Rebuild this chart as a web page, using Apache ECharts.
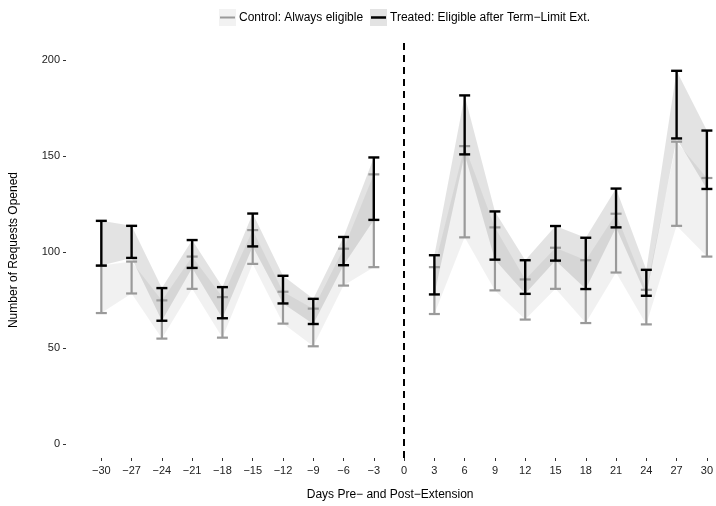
<!DOCTYPE html>
<html>
<head>
<meta charset="utf-8">
<script src="https://cdn.jsdelivr.net/npm/echarts@6/dist/echarts.min.js"></script>
<style>
  html, body { margin: 0; padding: 0; background: #fff; }
  #chart { width: 716px; height: 506px; }
</style>
</head>
<body>
<div id="chart"></div>
<script>
// Days relative to the term-limit extension (day 0)
var days = [-30, -27, -24, -21, -18, -15, -12, -9, -6, -3, 3, 6, 9, 12, 15, 18, 21, 24, 27, 30];

// Control group: always eligible (confidence interval bounds)
var controlLo = [68.2, 78.4, 54.9, 80.8, 55.4, 93.8, 62.7, 50.9, 82.5, 92.1,
                 67.7, 107.6, 80.0, 64.8, 80.8, 63.0, 89.3, 62.3, 113.6, 97.6];
var controlHi = [92.9, 95.0, 74.8, 97.6, 76.5, 111.4, 79.3, 70.5, 101.7, 140.4,
                 92.1, 155.1, 112.8, 85.7, 102.2, 95.7, 119.9, 80.3, 157.4, 138.5];

// Treated group: eligible after the term-limit extension
var treatedLo = [92.9, 96.9, 64.2, 91.7, 65.5, 102.9, 73.2, 62.5, 93.1, 116.7,
                 77.9, 150.8, 96.0, 78.2, 95.5, 80.7, 112.8, 77.2, 159.1, 132.8];
var treatedHi = [116.2, 113.6, 81.2, 106.2, 81.7, 120.0, 87.6, 75.6, 107.8, 149.2,
                 98.3, 181.5, 121.1, 95.7, 113.5, 107.4, 133.0, 90.7, 194.3, 163.2];

// Periods joined by ribbons: [first index, last index]
var periods = [[0, 9], [10, 19]];

// Axis tick values
var xTicks = [-30, -27, -24, -21, -18, -15, -12, -9, -6, -3, 0, 3, 6, 9, 12, 15, 18, 21, 24, 27, 30];
var yTicks = [0, 50, 100, 150, 200];

var labels = {
  control: 'Control: Always eligible',
  treated: 'Treated: Eligible after Term\u2212Limit Ext.',
  x: 'Days Pre\u2212 and Post\u2212Extension',
  y: 'Number of Requests Opened'
};

var FONT = "'Liberation Sans', Arial, Helvetica, sans-serif";
var GRAY = '#9a9a9a';

function ribbonSeries(lo, hi, fill, extra) {
  var s = {
    type: 'custom',
    silent: true,
    data: periods.map(function (p) { return p; }),
    encode: { x: -1, y: -1 },
    renderItem: function (params, api) {
      var p = periods[params.dataIndex];
      var pts = [];
      for (var i = p[0]; i <= p[1]; i++) pts.push(api.coord([days[i], hi[i]]));
      for (var j = p[1]; j >= p[0]; j--) pts.push(api.coord([days[j], lo[j]]));
      return { type: 'polygon', shape: { points: pts }, style: { fill: fill } };
    }
  };
  for (var k in extra) s[k] = extra[k];
  return s;
}

function barSeries(lo, hi, color, width) {
  return {
    type: 'custom',
    silent: true,
    data: days.map(function (d, i) { return [d, lo[i], hi[i]]; }),
    encode: { x: 0, y: [1, 2] },
    renderItem: function (params, api) {
      var x = api.value(0);
      var a = api.coord([x, api.value(1)]);
      var b = api.coord([x, api.value(2)]);
      var hw = 5.5;
      var st = { stroke: color, lineWidth: width };
      return {
        type: 'group',
        children: [
          { type: 'line', shape: { x1: a[0], y1: a[1], x2: b[0], y2: b[1] }, style: st },
          { type: 'line', shape: { x1: a[0] - hw, y1: a[1], x2: a[0] + hw, y2: a[1] }, style: st },
          { type: 'line', shape: { x1: b[0] - hw, y1: b[1], x2: b[0] + hw, y2: b[1] }, style: st }
        ]
      };
    }
  };
}

var chart = echarts.init(document.getElementById('chart'), null, { renderer: 'canvas' });

chart.setOption({
  animation: false,
  backgroundColor: '#fff',
  textStyle: { fontFamily: FONT },
  grid: { left: 66, right: 0, top: 42, bottom: 46, containLabel: false },
  xAxis: {
    type: 'value',
    min: -33.5,
    max: 30.73,
    name: labels.x,
    nameLocation: 'middle',
    nameGap: 31,
    nameTextStyle: { fontFamily: FONT, fontSize: 12, color: '#000' },
    axisLine: { show: false, onZero: false },
    splitLine: { show: false },
    axisTick: { show: true, length: 3, customValues: xTicks, lineStyle: { color: '#333', width: 1 } },
    axisLabel: {
      customValues: xTicks, margin: 7, fontFamily: FONT, fontSize: 11, color: '#222',
      formatter: function (v) { return v < 0 ? '\u2212' + Math.abs(v) : String(v); }
    }
  },
  yAxis: {
    type: 'value',
    min: -7.25,
    max: 209.3,
    name: labels.y,
    nameLocation: 'middle',
    nameGap: 46,
    nameRotate: 90,
    nameTextStyle: { fontFamily: FONT, fontSize: 12, color: '#000' },
    axisLine: { show: false, onZero: false },
    splitLine: { show: false },
    axisTick: { show: true, length: 3, customValues: yTicks, lineStyle: { color: '#333', width: 1 } },
    axisLabel: { customValues: yTicks, margin: 6, fontFamily: FONT, fontSize: 11, color: '#222' }
  },
  graphic: [
    { type: 'rect', shape: { x: 219, y: 9, width: 17, height: 17 }, style: { fill: '#f2f2f2' } },
    { type: 'line', shape: { x1: 220, y1: 17.5, x2: 235, y2: 17.5 }, style: { stroke: GRAY, lineWidth: 2 } },
    { type: 'text', x: 239, y: 17.5, style: { text: labels.control, font: '12px ' + FONT, fill: '#000', verticalAlign: 'middle' } },
    { type: 'rect', shape: { x: 370, y: 9, width: 17, height: 17 }, style: { fill: '#e3e3e3' } },
    { type: 'line', shape: { x1: 371, y1: 17.5, x2: 386, y2: 17.5 }, style: { stroke: '#000', lineWidth: 2.5 } },
    { type: 'text', x: 390, y: 17.5, style: { text: labels.treated, font: '12px ' + FONT, fill: '#000', verticalAlign: 'middle' } }
  ],
  series: [
    ribbonSeries(controlLo, controlHi, 'rgba(0,0,0,0.055)', {}),
    ribbonSeries(treatedLo, treatedHi, 'rgba(0,0,0,0.11)', {
      markLine: {
        silent: true,
        symbol: 'none',
        label: { show: false },
        lineStyle: { color: '#000', width: 2, type: [7, 5] },
        data: [{ xAxis: 0 }]
      }
    }),
    barSeries(controlLo, controlHi, GRAY, 2.2),
    barSeries(treatedLo, treatedHi, '#000', 2.4)
  ]
});
</script>
</body>
</html>
